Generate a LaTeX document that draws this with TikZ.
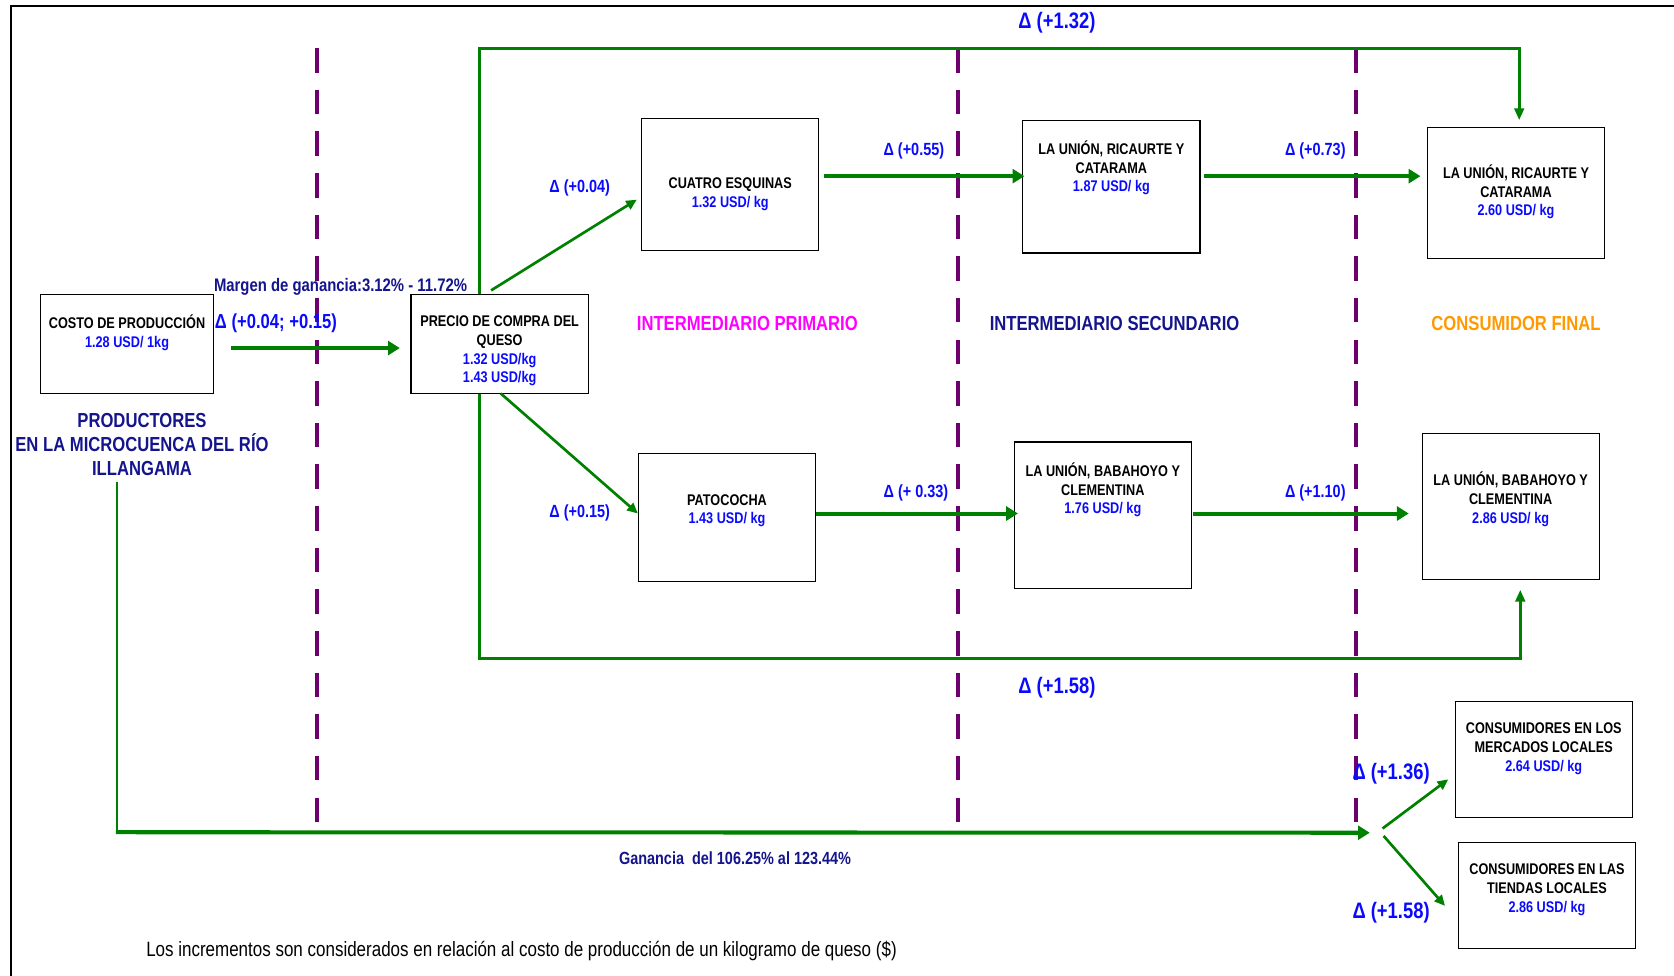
\documentclass[tikz,border=0pt]{standalone}
\usepackage{fontspec}
\setmainfont{Liberation Sans}[FakeStretch=0.82]
\usetikzlibrary{arrows.meta,calc}
\definecolor{grn}{RGB}{0,128,0}
\definecolor{purp}{RGB}{110,0,110}
\definecolor{blu}{RGB}{10,10,255}
\definecolor{navy}{RGB}{20,20,140}
\definecolor{mag}{RGB}{255,0,255}
\definecolor{orng}{RGB}{255,153,0}
\tikzset{
  box/.style={draw=black, line width=1pt, inner sep=0pt},
  txt/.style={inner sep=0pt, yshift=-1.8pt},
  btxt/.style={txt, font=\fontsize{14.5}{17.5}\selectfont\bfseries, align=center},
  sec/.style={txt, font=\fontsize{19}{22.5}\selectfont\bfseries, align=center},
  dsmall/.style={txt, font=\fontsize{16.5}{19}\selectfont\bfseries, text=blu},
  dbig/.style={txt, font=\fontsize{21}{24}\selectfont\bfseries, text=blu},
  note/.style={txt, font=\fontsize{17}{19}\selectfont\bfseries, text=navy},
  divider/.style={draw=purp, line width=4pt, dash pattern=on 23pt off 16pt},
  bigarrow/.style={draw=grn, line width=3.8pt, -{Triangle[length=11pt,width=13pt]}},
  thinarrow/.style={draw=grn, line width=2.5pt, -{Triangle[length=10pt,width=9pt]}},
  loopline/.style={draw=grn, line width=2.6pt, -{Triangle[length=11pt,width=9pt]}},
}
\begin{document}
\begin{tikzpicture}[x=1pt,y=-1pt]
\useasboundingbox (0,0) rectangle (1568,914);
% frame
\draw[line width=2pt] (10,914) -- (10,6) -- (1568,6);
% dividers
\draw[divider] (297,45) -- (297,778);
\draw[divider] (897,45) -- (897,784);
\draw[divider] (1270,45) -- (1270,784);
% boxes
\node[box, minimum width=162pt, minimum height=93pt] (costo) at (119,322.5) {};
\node[box, minimum width=166pt, minimum height=93pt] (precio) at (468,322.5) {};
\node[box, minimum width=166pt, minimum height=124pt] (cuatro) at (684,173) {};
\node[box, minimum width=166pt, minimum height=120pt] (pato) at (681,485) {};
\node[box, minimum width=166pt, minimum height=124pt] (ricA) at (1041,175) {};
\node[box, minimum width=166pt, minimum height=123pt] (ricB) at (1420,180.5) {};
\node[box, minimum width=166pt, minimum height=137pt] (babA) at (1033,482.5) {};
\node[box, minimum width=166pt, minimum height=137pt] (babB) at (1415,474.5) {};
\node[box, minimum width=166pt, minimum height=109pt] (merc) at (1446,711.5) {};
\node[box, minimum width=166pt, minimum height=99pt] (tiend) at (1449,838.5) {};
% box texts
\node[btxt] (tcosto) at (119,310) {COSTO DE PRODUCCIÓN\\\textcolor{blu}{1.28 USD/ 1kg}};
\node[btxt] (tprecio) at (468,327) {PRECIO DE COMPRA DEL\\QUESO\\\textcolor{blu}{1.32 USD/kg}\\\textcolor{blu}{1.43 USD/kg}};
\node[btxt] (tcuatro) at (684,180) {CUATRO ESQUINAS\\\textcolor{blu}{1.32 USD/ kg}};
\node[btxt] (tpato) at (681,476.5) {PATOCOCHA\\\textcolor{blu}{1.43 USD/ kg}};
\node[btxt] (tricA) at (1041,155.5) {LA UNIÓN, RICAURTE Y\\CATARAMA\\\textcolor{blu}{1.87 USD/ kg}};
\node[btxt] (tricB) at (1420,178) {LA UNIÓN, RICAURTE Y\\CATARAMA\\\textcolor{blu}{2.60 USD/ kg}};
\node[btxt] (tbabA) at (1033,457) {LA UNIÓN, BABAHOYO Y\\CLEMENTINA\\\textcolor{blu}{1.76 USD/ kg}};
\node[btxt] (tbabB) at (1415,466) {LA UNIÓN, BABAHOYO Y\\CLEMENTINA\\\textcolor{blu}{2.86 USD/ kg}};
\node[btxt] (tmerc) at (1446,699.5) {CONSUMIDORES EN LOS\\MERCADOS LOCALES\\\textcolor{blu}{2.64 USD/ kg}};
\node[btxt] (ttiend) at (1449,831.5) {CONSUMIDORES EN LAS\\TIENDAS LOCALES\\\textcolor{blu}{2.86 USD/ kg}};
% section labels
\node[sec, text=navy] (prod) at (133,414.5) {PRODUCTORES\\EN LA MICROCUENCA DEL RÍO\\ILLANGAMA};
\node[sec, text=mag] (lprim) at (700,301) {INTERMEDIARIO PRIMARIO};
\node[sec, text=navy] (lsec) at (1044,301) {INTERMEDIARIO SECUNDARIO};
\node[sec, text=orng] (lfin) at (1420,301) {CONSUMIDOR FINAL};
% notes
\node[note] (margen) at (319,267) {Margen de ganancia:3.12\% - 11.72\%};
\node[note, font=\fontsize{16.5}{19}\selectfont\bfseries] (ganancia) at (688.5,802) {Ganancia~ del 106.25\% al 123.44\%};
\node[txt, font=\fontsize{19.4}{22}\selectfont] (foot) at (488.5,889) {Los incrementos son considerados en relación al costo de producción de un kilogramo de queso (\$)};
% delta labels
\node[txt, font=\fontsize{19}{22}\selectfont\bfseries, text=blu] (d0) at (258.5,301) {Δ (+0.04; +0.15)};
\node[dsmall] (d1) at (543,174) {Δ (+0.04)};
\node[dsmall] (d2) at (543,479) {Δ (+0.15)};
\node[dsmall] (d3) at (856,140) {Δ (+0.55)};
\node[dsmall] (d4) at (1232,140) {Δ (+0.73)};
\node[dsmall] (d5) at (858,460) {Δ (+ 0.33)};
\node[dsmall] (d6) at (1232,460) {Δ (+1.10)};
\node[dbig] (d7) at (990,19) {Δ (+1.32)};
\node[dbig] (d8) at (990,642) {Δ (+1.58)};
\node[dbig] (d9) at (1303,723) {Δ (+1.36)};
\node[dbig] (d10) at (1303,853) {Δ (+1.58)};
% connectors
\draw[bigarrow] ($(costo.east)+(16,3.5)$) -- ($(precio.west)+(-10,3.5)$);
\draw[thinarrow] ($(precio.north)+(-8,-3.5)$) -- ($(cuatro.west)+(-4,14)$);
\draw[thinarrow] ($(precio.south)+(1,-1)$) -- ($(pato.west)+(0,-4)$);
\draw[bigarrow] ($(cuatro.east)+(4,-8)$) -- ($(ricA.west)+(2,-10)$);
\draw[bigarrow] ($(ricA.east)+(3,-10)$) -- ($(ricB.west)+(-6,-15.5)$);
\draw[bigarrow] ($(pato.east)+(0,-4)$) -- ($(babA.west)+(4,-1.5)$);
\draw[bigarrow] ($(babA.east)+(1,-1.5)$) -- ($(babB.west)+(-12,6.5)$);
\draw[loopline] ($(precio.north)+(-19,0)$) -- ++(0,-230) -| ($(ricB.north)+(3,-6)$);
\draw[loopline] ($(precio.south)+(-19,0)$) -- ++(0,247) -| ($(babB.south)+(9,9)$);
% producers path
\coordinate (corner) at (109.5,779.5);
\coordinate (hub) at (1283,780);
\coordinate (forkA) at (1295,776);
\coordinate (forkB) at (1296,783);
\draw[draw=grn, line width=2pt] ($(prod.south)+(-23.5,6)$) -- ($(corner)+(0,1.5)$);
\draw[bigarrow] ($(corner)+(-1,0)$) -- (hub);
\draw[thinarrow] (forkA) -- ($(merc.west)+(-6,18.5)$);
\draw[thinarrow] (forkB) -- ($(tiend.west)+(-12,10)$);
\end{tikzpicture}
\end{document}
